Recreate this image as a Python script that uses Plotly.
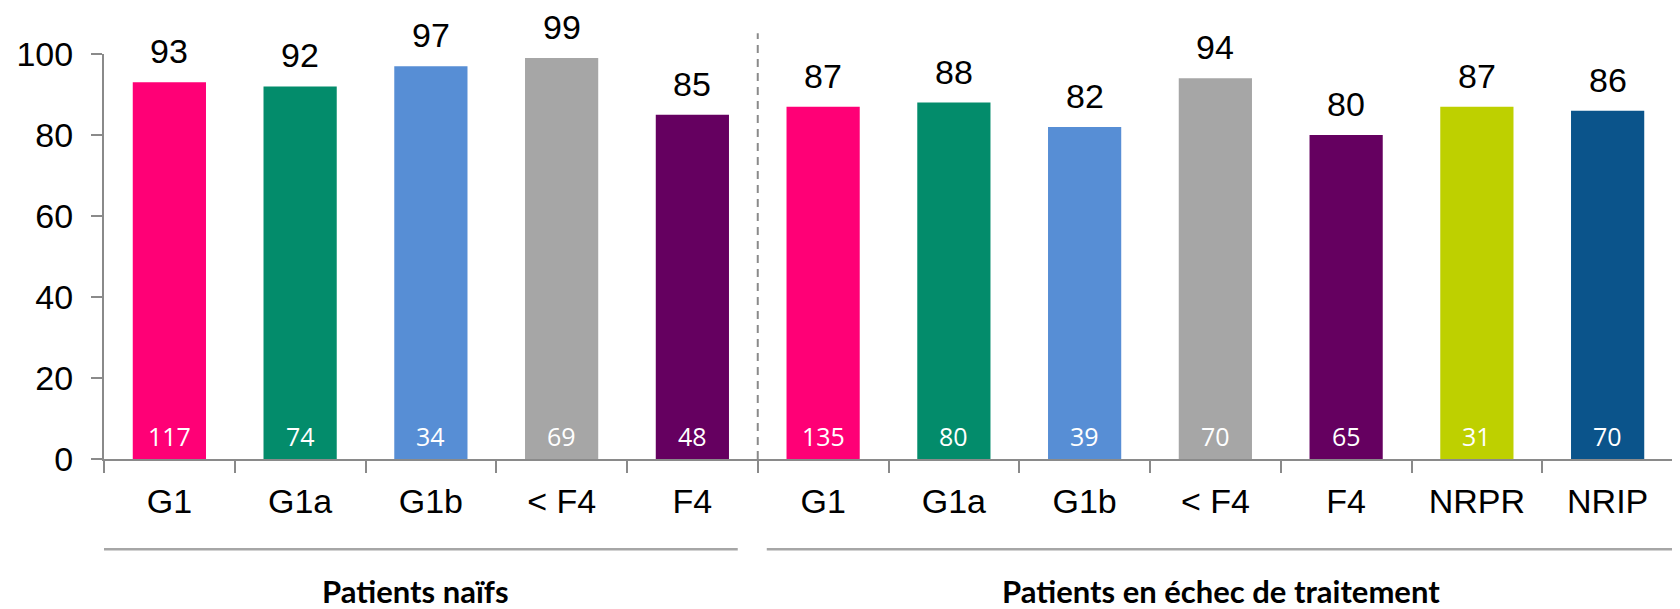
import plotly.graph_objects as go

# SVR12 by subgroup (%), with patient counts
categories = ["G1", "G1a", "G1b", "< F4", "F4",
              "G1", "G1a", "G1b", "< F4", "F4", "NRPR", "NRIP"]
values = [93, 92, 97, 99, 85, 87, 88, 82, 94, 80, 87, 86]
counts = [117, 74, 34, 69, 48, 135, 80, 39, 70, 65, 31, 70]
colors = ["#FF0076", "#038C6B", "#578ED5", "#A6A6A6", "#650060",
          "#FF0076", "#038C6B", "#578ED5", "#A6A6A6", "#650060", "#BED000", "#0B548B"]
groups = ["Patients naïfs", "Patients en échec de traitement"]
group_sizes = [5, 7]
y_ticks = [0, 20, 40, 60, 80, 100]

x = list(range(len(categories)))
axis_grey = "#8A8A8A"
arial = "Liberation Sans, Arial, sans-serif"

fig = go.Figure()
fig.add_trace(go.Bar(x=x, y=values, marker_color=colors, marker_line_width=0,
                     width=0.56, hoverinfo="skip"))

# value on top of each bar, count inside at the bottom
for xi, v, n in zip(x, values, counts):
    fig.add_annotation(x=xi, y=v, text=str(v), showarrow=False, yanchor="middle",
                       yshift=31, font=dict(family=arial, size=34, color="black"))
    fig.add_annotation(x=xi, y=0, text=str(n), showarrow=False, yanchor="middle",
                       yshift=23, font=dict(family="Open Sans, sans-serif", size=25, color="white"))

# dashed separator between the two groups
fig.add_shape(type="line", xref="x", yref="paper", x0=group_sizes[0] - 0.5, x1=group_sizes[0] - 0.5,
              y0=0, y1=1.051, line=dict(color=axis_grey, width=2, dash="8px,6px"))

# group brackets and labels
start = -0.5
pads = [(-0.076, -0.153), (0.069, 0.02)]
for g, size, (pl, pr) in zip(groups, group_sizes, pads):
    x0, x1 = start + pl, start + size + pr
    fig.add_shape(type="line", xref="x", yref="paper", x0=x0, x1=x1, y0=-0.223, y1=-0.223,
                  line=dict(color="#A6A6A6", width=2.5))
    fig.add_annotation(x=(x0 + x1) / 2, y=-0.327, xref="x", yref="paper", text="<b>" + g + "</b>",
                       showarrow=False, yanchor="middle",
                       font=dict(family="Lato, sans-serif", size=31, color="black"))
    start += size

fig.update_xaxes(range=[-0.5, len(categories) - 0.5], tickmode="array", tickvals=x,
                 ticktext=categories, ticks="", showline=True, linecolor=axis_grey, linewidth=2,
                 tickfont=dict(family=arial, size=34, color="black"), ticklabelstandoff=11,
                 minor=dict(tickmode="linear", tick0=-0.5, dtick=1, ticks="outside",
                            ticklen=12, tickwidth=2, tickcolor=axis_grey),
                 showgrid=False, zeroline=False, fixedrange=True)
fig.update_yaxes(range=[0, 100], tickvals=y_ticks, ticks="outside", ticklen=11, tickwidth=2,
                 tickcolor=axis_grey, showline=True, linecolor=axis_grey, linewidth=2,
                 tickfont=dict(family=arial, size=34, color="black"), ticklabelstandoff=11,
                 showgrid=False, zeroline=False, fixedrange=True)

# page body adds an 8px margin, so the figure is a little smaller than the window
fig.update_layout(width=1672, height=601, margin=dict(l=96, r=7, t=46, b=150),
                  plot_bgcolor="white", paper_bgcolor="white", showlegend=False,
                  bargap=0.44)

fig.write_html("out.html")
